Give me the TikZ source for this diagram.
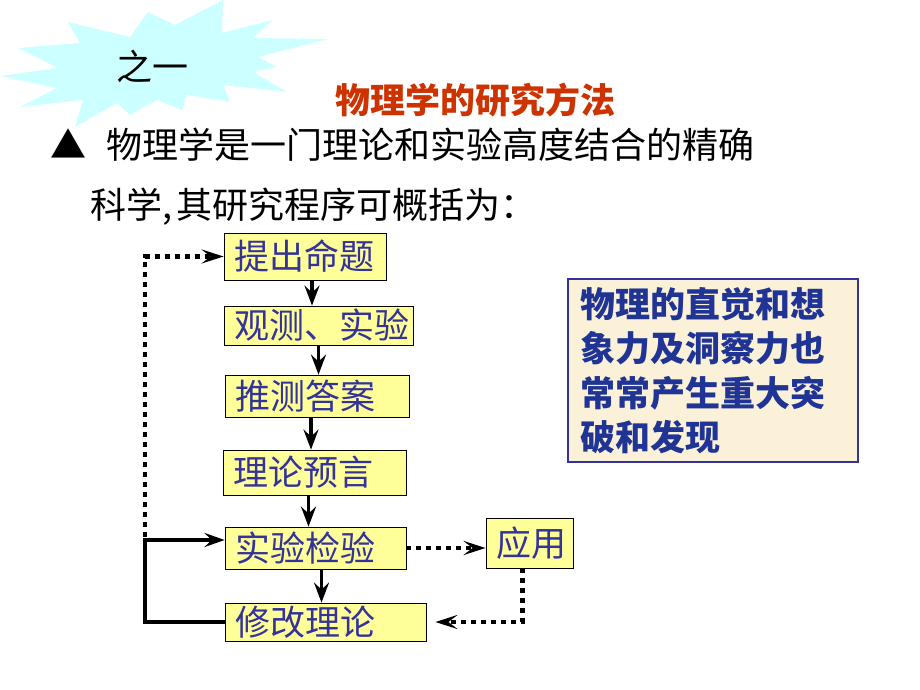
\documentclass[tikz,border=0pt]{standalone}
\usepackage{fontspec}
\newfontfamily\cjk{Noto Sans CJK SC}
\usetikzlibrary{arrows.meta,calc}
\definecolor{burst}{HTML}{CCFFFF}
\definecolor{boxyellow}{HTML}{FFFF99}
\definecolor{boxblue}{HTML}{333399}
\definecolor{titlered}{HTML}{CC3300}
\definecolor{notefill}{HTML}{FBF1D9}
\definecolor{noteblue}{HTML}{1F3494}
\tikzstyle{stepbox}=[draw=black, line width=0.8pt, fill=boxyellow, text=boxblue, font=\cjk\fontsize{35}{38}\selectfont, inner xsep=10pt, inner ysep=0pt, align=left]
\tikzstyle{flow}=[line width=3.5pt, -{Stealth[length=20pt,width=15pt,inset=7pt]}]
\tikzstyle{dotflow}=[line width=4.5pt, dash pattern=on 5pt off 5pt, -{Stealth[length=22pt,width=14pt,inset=9pt]}]
\tikzstyle{bigtext}=[inner sep=0pt, anchor=west, font=\cjk\fontsize{36}{40}\selectfont]

\begin{document}
\begin{tikzpicture}[x=1pt,y=-1pt]
\useasboundingbox (0,0) rectangle (920,690);
% starburst
\fill[burst] (223,0) -- (222,33) -- (273,20) -- (253,38) -- (328,39) -- (258,57) -- (277,67)
  -- (253,72) -- (287,92) -- (223,85) -- (230,102) -- (187,95) -- (182,110) -- (157,100)
  -- (130,115) -- (117,103) -- (75,127) -- (83,100) -- (20,107) -- (57,88) -- (0,76)
  -- (58,68) -- (18,48) -- (80,43) -- (68,22) -- (130,37) -- (148,12) -- (175,25) -- cycle;
\node[inner sep=0pt, font=\cjk\fontsize{36}{38}\selectfont] (chap) at (152,66) {之一};
\node[inner sep=0pt, text=titlered, font=\cjk\bfseries\fontsize{35}{38}\selectfont] (title) at (475,100) {物理学的研究方法};
\node[bigtext] (line1) at (50,145) {▲\hspace{20pt}物理学是一门理论和实验高度结合的精确};
\node[bigtext] (line2) at (90,207) {科学,\hspace{4pt}其研究程序可概括为：};

% steps
\node[stepbox, text width=142pt, minimum height=47pt] (b1) at (305,256.5) {提出命题};
\node[stepbox, text width=169pt, minimum height=39pt] (b2) at (318.5,325.5) {观测、实验};
\node[stepbox, text width=164pt, minimum height=42pt] (b3) at (317,396) {推测答案};
\node[stepbox, text width=163pt, minimum height=45pt] (b4) at (314.5,472.5) {理论预言};
\node[stepbox, text width=161pt, minimum height=42pt] (b5) at (315.5,548) {实验检验};
\node[stepbox, text width=181pt, minimum height=38pt] (b6) at (325.5,622) {修改理论};
\node[stepbox, text width=67pt, minimum height=50pt] (app) at (529.5,543) {应用};

\draw[flow] (b1.south) ++(7,0) -- ($(b1.south |- b2.north)+(7,0)$);
\draw[flow] (b2.south) -- (b2.south |- b3.north);
\draw[flow] (b3.south) ++(-6,0) -- ($(b3.south |- b4.north)+(-6,0)$);
\draw[flow] (b4.south) ++(-6,0) -- ($(b4.south |- b5.north)+(-6,0)$);
\draw[flow] (b5.south) ++(6,0) -- ($(b5.south |- b6.north)+(6,0)$);

% feedback loops
\coordinate (loopcorner) at (145,540);
\coordinate (dotstart) at (145,537);
\draw[line width=4pt, -{Stealth[length=20pt,width=14pt,inset=7pt]}] (b6.west) -| (loopcorner) -- ($(b5.west)+(0,-8)$);
\draw[dotflow] (dotstart) |- (b1.west);
\draw[dotflow] (b5.east) -- (b5.east -| app.west);
\draw[dotflow, shorten >=9pt] ($(app.south)+(-7,0)$) |- (b6.east);

% note
\node[draw=boxblue, line width=2pt, fill=notefill, text=noteblue, text width=266pt, minimum height=183pt,
  inner xsep=12pt, align=left, font=\cjk\bfseries\fontsize{35}{44.5}\selectfont] (note) at (713,370.5)
  {物理的直觉和想\\象力及洞察力也\\常常产生重大突\\破和发现};
\end{tikzpicture}
\end{document}
